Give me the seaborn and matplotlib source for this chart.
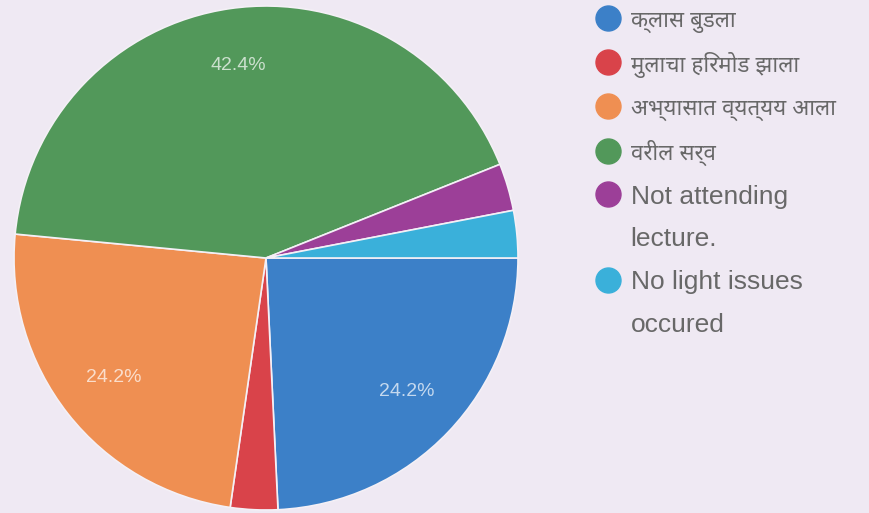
import matplotlib
matplotlib.use('Agg')
import matplotlib.pyplot as plt
from matplotlib.lines import Line2D
import seaborn as sns

labels = ['क्लास बुडला', 'मुलाचा हिरमोड झाला', 'अभ्यासात व्यत्यय आला', 'वरील सर्व',
          'Not attending\nlecture.', 'No light issues\noccured']
counts = [8, 1, 8, 14, 1, 1]
colors = ['#3c80c8', '#d9434a', '#ef8f52', '#52985a', '#9c3f98', '#3ab0da']

sns.set_theme(style='white')
# latin from Liberation, devanagari falls through to Noto
plt.rcParams['font.family'] = ['Liberation Sans', 'Noto Sans Devanagari', 'DejaVu Sans']

bg = '#efe9f3'
fig = plt.figure(figsize=(8.69, 5.13), dpi=100, facecolor=bg)
ax = fig.add_axes([14/869, 3/513, 504/869, 504/513])
ax.set_facecolor(bg)

def pct(p):
    return f'{p:.1f}%' if p > 5 else ''

wedges, texts, autotexts = ax.pie(counts, colors=colors, startangle=0, counterclock=False,
                                  autopct=pct, pctdistance=0.77, radius=1,
                                  wedgeprops=dict(edgecolor='#f4f0f6', linewidth=1.2))
for t in autotexts:
    t.set_color('white')
    t.set_alpha(0.7)
    t.set_fontsize(14)
ax.set_xlim(-1, 1)
ax.set_ylim(-1, 1)
ax.set_aspect('equal')
ax.axis('off')

# split wrapped labels so the marker sits on the first line
handles = []
names = []
for lab, c in zip(labels, colors):
    first, *rest = lab.split('\n')
    handles.append(Line2D([], [], marker='o', linestyle='', markersize=18, color=c))
    names.append(first)
    for r in rest:
        handles.append(Line2D([], [], linestyle='', marker=''))
        names.append(r)

leg = fig.legend(handles, names, loc='upper left', bbox_to_anchor=(570/869, 1.03),
                 frameon=False, fontsize=19, labelcolor='#686868', handletextpad=0.3,
                 labelspacing=0.71, handlelength=1.1)
for t in leg.get_texts():
    if not t.get_text().isascii():
        t.set_fontsize(16)

fig.savefig('out.png', dpi=100, facecolor=bg)
